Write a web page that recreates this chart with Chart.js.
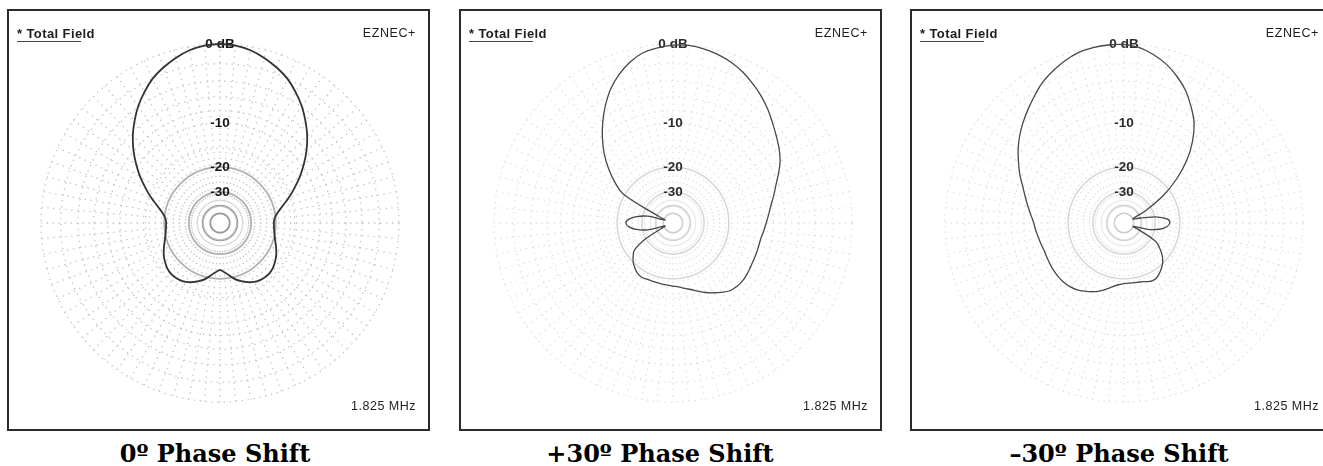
<!DOCTYPE html>
<html>
<head>
<meta charset="utf-8">
<script src="https://cdn.jsdelivr.net/npm/chart.js@4/dist/chart.umd.min.js"></script>
<style>
html,body{margin:0;padding:0;background:#fff;width:1323px;height:466px;overflow:hidden;}
body{position:relative;font-family:"Liberation Sans",Arial,sans-serif;}
.box{position:absolute;top:9px;width:423px;height:422px;box-sizing:border-box;border:2px solid #2b2b2b;}
.cv{position:absolute;}
.t{position:absolute;white-space:nowrap;line-height:13px;color:#1e1e1e;font-size:12.5px;}
.title{font-weight:bold;font-size:13px;letter-spacing:0.4px;}
.eznec{letter-spacing:0.6px;}
.mhz{letter-spacing:0.5px;}
.ul{position:absolute;height:1px;background:#444;}
.cap{position:absolute;top:442px;font-family:"DejaVu Serif",serif;font-weight:bold;font-size:24px;line-height:24px;color:#000;white-space:nowrap;transform:translateX(-50%);}
</style>
</head>
<body>
<script>
// ---- data ----
const azimuthDeg = [0,5,10,15,20,25,30,35,40,45,50,55,60,65,70,75,80,85,90,95,100,105,110,115,120,125,130,135,140,145,150,155,160,165,170,175,
  180,185,190,195,200,205,210,215,220,225,230,235,240,245,250,255,260,265,270,275,280,285,290,295,300,305,310,315,320,325,330,335,340,345,350,355];

// 0 deg phase shift, dB
const gainPhase0 = [0,-0.1,-0.35,-0.8,-1.35,-2.0,-2.9,-3.9,-5.1,-6.4,-7.9,-9.6,-11.4,-13.4,-15.4,-17.5,-19.2,-20.3,-20.6,-20.5,-20.2,-19.7,-19.0,-18.2,-17.4,-16.8,-16.3,-16.0,-16.0,-16.2,-16.6,-17.3,-18.2,-19.3,-20.8,-22.1,
  -22.9,-22.1,-20.8,-19.3,-18.2,-17.3,-16.6,-16.2,-16.0,-16.0,-16.3,-16.8,-17.4,-18.2,-19.0,-19.7,-20.2,-20.5,-20.6,-20.3,-19.2,-17.5,-15.4,-13.4,-11.4,-9.6,-7.9,-6.4,-5.1,-3.9,-2.9,-2.0,-1.35,-0.8,-0.35,-0.1];

// +30 deg phase shift, dB
const gainPhasePlus30 = [-0.1,-0.07,-0.2,-0.45,-0.8,-1.28,-1.9,-2.55,-3.3,-4.1,-4.85,-5.55,-6.35,-7.4,-8.45,-9.3,-10.1,-10.7,-11.2,-11.6,-11.95,-12.05,-12.05,-12.05,-11.95,-11.8,-11.7,-11.8,-12.1,-12.85,-13.7,-14.55,-15.5,-16.4,-17.0,-17.6,
  -17.9,-18.1,-18.2,-18.25,-18.25,-18.2,-18.0,-18.3,-19.0,-19.9,-21.2,-23.0,-30,-45,-52,-33,-27,-24,-22.9,-24,-27,-33,-52,-42,-19.7,-15.9,-13.0,-10.5,-8.4,-6.5,-4.8,-3.3,-2.15,-1.25,-0.6,-0.3];

// -30 deg phase shift, dB
const gainPhaseMinus30 = [-0.05,-0.28,-0.8,-1.48,-2.4,-3.5,-4.95,-6.55,-8.9,-12.0,-16.4,-22.5,-33,-50,-46,-37,-28.3,-24.2,-23.4,-24.5,-27.5,-34,-50,-40,-27.5,-24.3,-22.0,-20.3,-19.2,-18.3,-17.65,-17.6,-18.1,-18.45,-18.6,-18.65,
  -18.6,-18.2,-17.5,-16.5,-15.5,-14.75,-14.1,-13.5,-13.1,-12.9,-12.8,-12.8,-12.85,-12.9,-12.9,-12.7,-12.45,-12.1,-11.75,-11.15,-10.4,-9.6,-8.7,-7.6,-6.6,-5.6,-4.7,-3.9,-3.15,-2.4,-1.65,-1.1,-0.62,-0.25,-0.1,-0.03];

const ringDb = [-50,-40,-30,-20,-15,-10,-8,-6,-4,-2,0];
const ringLabelDb = [0,-10,-20,-30];
const ringLabelText = ['0 dB','-10','-20','-30'];
const captions = ['0\u00BA Phase Shift','+30\u00BA Phase Shift','\u201330\u00BA Phase Shift'];
const titleText = '* Total Field';
const brandText = 'EZNEC+';
const freqText = '1.825 MHz';

// ---- ARRL log radial scale (0.89 per 2 dB) ----
const ARRL_STEP = 0.89;
const BaseRadial = Chart.RadialLinearScale || Chart.scales.RadialLinearScale;
class ArrlRadialScale extends BaseRadial {
  getDistanceFromCenterForValue(value) {
    if (value === null || value === undefined || isNaN(value)) return NaN;
    return this.drawingArea * Math.pow(ARRL_STEP, -value / 2);
  }
  getValueForDistanceFromCenter(distance) {
    return -2 * Math.log(distance / this.drawingArea) / Math.log(ARRL_STEP);
  }
}
ArrlRadialScale.id = 'arrlRadial';
ArrlRadialScale.defaults = {};
Chart.register(ArrlRadialScale);

// ---- layout / style ----
const panels = [
  {boxLeft:7,   cx:220,  cy:223, series:gainPhase0,       capX:215,  line:'#333333', lw:1.8, dot:'#c4c4c4', ring:'#b0b0b0', inner:'#999999', ringW:1.8, lab:'#161616'},
  {boxLeft:459, cx:673,  cy:223, series:gainPhasePlus30,  capX:660,  line:'#484848', lw:1.3, dot:'#e0e0e0', ring:'#d6d6d6', inner:'#cccccc', ringW:1.5, lab:'#2c2c2c'},
  {boxLeft:910, cx:1124, cy:223, series:gainPhaseMinus30, capX:1119, line:'#484848', lw:1.3, dot:'#e0e0e0', ring:'#d6d6d6', inner:'#cccccc', ringW:1.5, lab:'#2c2c2c'}
];
const CANVAS = 372, HALF = 186;

const radialDash = [0, 16];
for (let d = 16; d < 184; d += 6) radialDash.push(1.4, 4.6);

function el(cls, css, text) {
  const e = document.createElement('div');
  e.className = cls;
  Object.assign(e.style, css);
  if (text !== undefined) e.textContent = text;
  document.body.appendChild(e);
  return e;
}

panels.forEach((p, i) => {
  el('box', {left: p.boxLeft + 'px'});
  const cv = document.createElement('canvas');
  cv.className = 'cv';
  cv.width = CANVAS; cv.height = CANVAS;
  cv.style.left = (p.cx - HALF) + 'px';
  cv.style.top = (p.cy - HALF) + 'px';
  document.body.appendChild(cv);

  el('t title', {left: (p.boxLeft + 10) + 'px', top: '26.5px'}, titleText);
  el('ul', {left: (p.boxLeft + 10) + 'px', top: '41px', width: '64px'});
  el('t eznec', {right: (1323 - (p.boxLeft + 409)) + 'px', top: '26.5px'}, brandText);
  el('t mhz', {right: (1323 - (p.boxLeft + 409)) + 'px', top: '400px'}, freqText);
  el('cap', {left: p.capX + 'px'}, captions[i]);

  new Chart(cv, {
    type: 'radar',
    data: {
      labels: azimuthDeg,
      datasets: [{
        data: p.series,
        borderColor: p.line,
        borderWidth: p.lw,
        pointRadius: 0,
        fill: false,
        tension: 0.4,
        borderJoinStyle: 'round'
      }]
    },
    options: {
      responsive: false,
      animation: false,
      events: [],
      layout: {padding: 0},
      plugins: {legend: {display: false}, tooltip: {enabled: false}},
      scales: {
        r: {
          type: 'arrlRadial',
          min: -60,
          max: 0,
          startAngle: 0,
          afterBuildTicks: (s) => { s.ticks = ringDb.map(v => ({value: v})); },
          grid: {
            circular: true,
            color: (c) => !c.tick ? p.dot : (c.tick.value <= -40 ? p.inner : (c.tick.value <= -20 ? p.ring : p.dot)),
            lineWidth: (c) => (c.tick && c.tick.value <= -20) ? p.ringW : 1.3
          },
          border: {
            dash: (c) => (c.tick && c.tick.value <= -20) ? [] : [1.4, 4.6]
          },
          angleLines: {
            display: true,
            color: p.dot,
            lineWidth: 1.3,
            borderDash: radialDash
          },
          pointLabels: {display: false},
          ticks: {
            display: true,
            autoSkip: false,
            showLabelBackdrop: false,
            backdropPadding: 0,
            color: p.lab,
            font: {family: '"Liberation Sans", Arial, sans-serif', size: 13.5, weight: 'bold'},
            callback: (v) => {
              const k = ringLabelDb.indexOf(v);
              return k >= 0 ? ringLabelText[k] : '';
            }
          }
        }
      }
    }
  });
});
</script>
</body>
</html>
